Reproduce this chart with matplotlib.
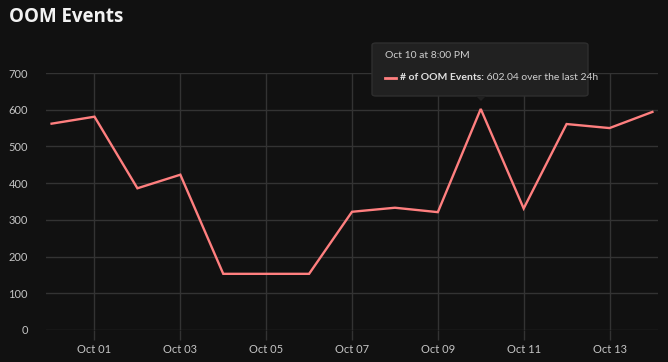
import matplotlib
matplotlib.use("Agg")
import matplotlib.pyplot as plt
import matplotlib.dates as mdates
from matplotlib.patches import FancyBboxPatch, Polygon
from matplotlib.lines import Line2D
import numpy as np
import datetime as dt

dates = ["2024-09-30", "2024-10-01", "2024-10-02", "2024-10-03", "2024-10-04",
         "2024-10-05", "2024-10-06", "2024-10-07", "2024-10-08", "2024-10-09",
         "2024-10-10", "2024-10-11", "2024-10-12", "2024-10-13", "2024-10-14"]
oom_events = [562, 581, 386, 423, 153, 153, 153, 322, 333, 321,
              602.04, 331, 561, 550, 594]
y_ticks = [0, 100, 200, 300, 400, 500, 600, 700]
x_tick_dates = ["2024-10-01", "2024-10-03", "2024-10-05", "2024-10-07",
                "2024-10-09", "2024-10-11", "2024-10-13"]
title = "OOM Events"
tooltip_title = "Oct 10 at 8:00 PM"
tooltip_label = "# of OOM Events:"
tooltip_value = " 602.04 over the last 24h"

BG = "#111111"
LINE = "#ff7f7f"
GRID = "#333333"
TXT = "#c4c4c4"

W, H = 668, 362
fig = plt.figure(figsize=(W / 100, H / 100), dpi=100, facecolor=BG)

def fx(px):
    return px / W

def fy(py):
    return 1 - py / H

ax = fig.add_axes([fx(46), fy(330), fx(658) - fx(46), fy(73) - fy(330)])
ax.set_facecolor(BG)

x = [dt.datetime.strptime(d, "%Y-%m-%d") for d in dates]
xn = mdates.date2num(x)
ax.plot(x, oom_events, color=LINE, lw=1.7, solid_joinstyle="miter", zorder=3, clip_on=False)

ax.set_ylim(0, 700)
ax.set_xlim(xn[0] - 0.13, xn[-1] + 0.13)
ax.set_yticks(y_ticks)
xt = [dt.datetime.strptime(d, "%Y-%m-%d") for d in x_tick_dates]
ax.set_xticks(xt)
ax.xaxis.set_major_formatter(mdates.DateFormatter("%b %d"))

for s in ax.spines.values():
    s.set_visible(False)
ax.grid(True, color=GRID, lw=1)
ax.set_axisbelow(True)
ax.tick_params(axis="y", length=0, pad=13, labelcolor=TXT, labelsize=8)
ax.tick_params(axis="x", length=7, width=1, color=GRID, pad=3, labelcolor=TXT, labelsize=8)
for lbl in ax.get_xticklabels() + ax.get_yticklabels():
    lbl.set_fontfamily("Lato")

fig.text(fx(9), fy(17), title, fontsize=13.5, fontweight="bold", color="#f2f2f2",
         family="Open Sans", va="center", ha="left")

# tooltip
bx0, by0, bx1, by1 = 372, 43, 588, 96
box = FancyBboxPatch((fx(bx0), fy(by1)), fx(bx1) - fx(bx0), fy(by0) - fy(by1),
                     boxstyle="round,pad=0,rounding_size=0.006",
                     transform=fig.transFigure, facecolor="#212121",
                     edgecolor="#2e2e2e", lw=1, zorder=10)
fig.patches.append(box)
tri = Polygon([[fx(476), fy(96)], [fx(486), fy(96)], [fx(481), fy(101)]],
              closed=True, transform=fig.transFigure, facecolor="#212121",
              edgecolor="none", zorder=10)
fig.patches.append(tri)
fig.text(fx(385), fy(55), tooltip_title, fontsize=7.5, color="#cfcfcf",
         family="Lato", va="center", ha="left", zorder=11)
fig.lines.append(Line2D([fx(385), fx(396)], [fy(78), fy(78)], color=LINE, lw=2,
                        transform=fig.transFigure, zorder=11))
t1 = fig.text(fx(400), fy(78), tooltip_label, fontsize=7.5, color="#e0e0e0",
              fontweight="bold", family="Lato", va="center", ha="left", zorder=11)
fig.canvas.draw()
bb = t1.get_window_extent()
fig.text(bb.x1 / W, fy(78), tooltip_value, fontsize=7.5, color="#cfcfcf",
         family="Lato", va="center", ha="left", zorder=11)

fig.savefig("out.png", dpi=100, facecolor=BG)
